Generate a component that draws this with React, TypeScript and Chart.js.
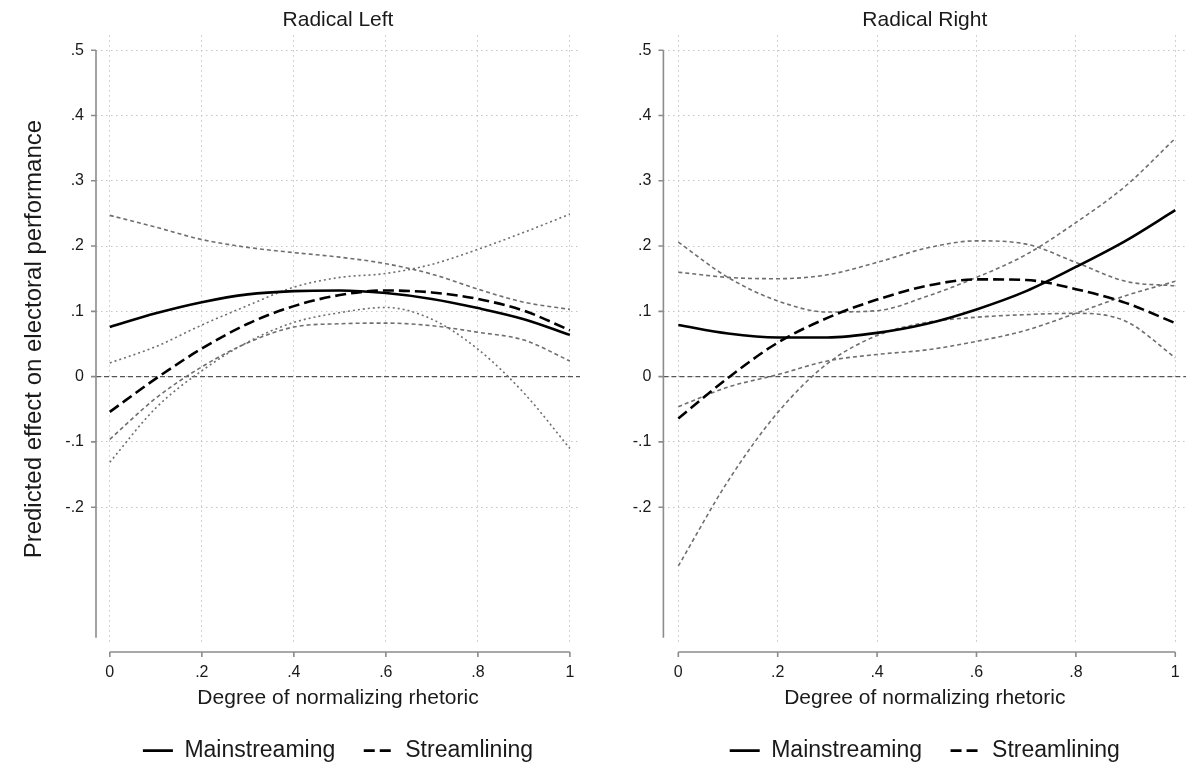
import React, { useEffect, useRef } from "react";
import { Chart, registerables } from "chart.js";

Chart.register(...registerables);

// ---------- data ----------
const xs = [0, 0.1, 0.2, 0.3, 0.4, 0.5, 0.6, 0.7, 0.8, 0.9, 1];

const leftMain = [0.076, 0.097, 0.114, 0.126, 0.131, 0.132, 0.128, 0.119, 0.105, 0.088, 0.064];
const leftStream = [-0.054, -0.003, 0.043, 0.081, 0.108, 0.125, 0.132, 0.129, 0.119, 0.101, 0.071];
const leftMainUpper = [0.247, 0.229, 0.21, 0.198, 0.19, 0.183, 0.173, 0.157, 0.134, 0.114, 0.103];
const leftMainLower = [-0.096, -0.033, 0.015, 0.052, 0.076, 0.081, 0.082, 0.078, 0.068, 0.056, 0.024];
const leftStreamUpper = [0.021, 0.046, 0.079, 0.109, 0.137, 0.152, 0.158, 0.172, 0.195, 0.221, 0.249];
const leftStreamLower = [-0.131, -0.048, 0.009, 0.053, 0.083, 0.098, 0.106, 0.088, 0.042, -0.025, -0.11];

const rightMain = [0.079, 0.066, 0.06, 0.06, 0.067, 0.081, 0.103, 0.131, 0.168, 0.208, 0.255];
const rightStream = [-0.064, -0.002, 0.052, 0.09, 0.118, 0.139, 0.149, 0.148, 0.134, 0.113, 0.082];
const rightMainUpper = [0.206, 0.152, 0.116, 0.099, 0.101, 0.123, 0.152, 0.187, 0.236, 0.292, 0.365];
const rightMainLower = [-0.046, -0.016, 0.003, 0.024, 0.034, 0.041, 0.054, 0.071, 0.097, 0.124, 0.146];
const rightStreamUpper = [0.16, 0.152, 0.15, 0.156, 0.175, 0.197, 0.208, 0.203, 0.175, 0.146, 0.139];
const rightStreamLower = [-0.29, -0.16, -0.055, 0.02, 0.063, 0.083, 0.091, 0.095, 0.097, 0.085, 0.029];

const xTicks = [0, 0.2, 0.4, 0.6, 0.8, 1];
const yTicks = [-0.2, -0.1, 0, 0.1, 0.2, 0.3, 0.4, 0.5];
const refY = [0, 0];

const X_MIN = -0.03;
const X_MAX = 1.022;
const Y_MIN = -0.408;
const Y_MAX = 0.523;
const Y_AXIS_FROM = -0.4;
const Y_AXIS_TO = 0.5;

const panelTitles = ["Radical Left", "Radical Right"];
const xTitle = "Degree of normalizing rhetoric";
const yTitle = "Predicted effect on electoral performance";
const seriesNames = ["Mainstreaming", "Streamlining"];

// ---------- styles ----------
const FONT = "'Liberation Sans', Arial, Helvetica, sans-serif";
const TEXT = "#1a1a1a";
const AXIS = "#8c8c8c";
const GRID = "#c4c4c4";
const CI = "#6f6f6f";
const MAIN_DASH = [11, 5];

function fmt(v: number): string {
  if (Math.abs(v) < 1e-9) return "0";
  if (Number.isInteger(v)) return String(v);
  return v.toFixed(1).replace("0.", ".");
}

const pts = (ys: number[]) => xs.map((x, i) => ({ x, y: ys[i] }));

const axesPlugin = {
  id: "stataAxes",
  afterDraw(chart: any) {
    const { ctx, chartArea, scales } = chart;
    const x = scales.x;
    const y = scales.y;
    ctx.save();
    ctx.setLineDash([]);
    ctx.strokeStyle = AXIS;
    ctx.lineWidth = 1.6;
    // y axis
    const ax = chartArea.left;
    ctx.beginPath();
    ctx.moveTo(ax, y.getPixelForValue(Y_AXIS_TO));
    ctx.lineTo(ax, y.getPixelForValue(Y_AXIS_FROM));
    yTicks.forEach((v) => {
      const py = y.getPixelForValue(v);
      ctx.moveTo(ax - 5, py);
      ctx.lineTo(ax, py);
    });
    ctx.stroke();
    // x axis
    const ay = chartArea.bottom + 9;
    ctx.beginPath();
    ctx.moveTo(x.getPixelForValue(xTicks[0]), ay);
    ctx.lineTo(x.getPixelForValue(xTicks[xTicks.length - 1]), ay);
    xTicks.forEach((v) => {
      const px = x.getPixelForValue(v);
      ctx.moveTo(px, ay);
      ctx.lineTo(px, ay + 5);
    });
    ctx.stroke();
    ctx.restore();
  },
};

type PanelProps = {
  title: string;
  main: number[];
  stream: number[];
  mainUpper: number[];
  mainLower: number[];
  streamUpper: number[];
  streamLower: number[];
  streamCIDash: number[];
  showYTitle: boolean;
  padLeft: number;
  padRight: number;
  yAxisWidth: number;
};

function Panel(p: PanelProps) {
  const ref = useRef<HTMLCanvasElement | null>(null);
  useEffect(() => {
    if (!ref.current) return;
    const chart = new Chart(ref.current, {
      type: "line",
      data: {
        datasets: [
          {
            label: seriesNames[0],
            data: pts(p.main),
            borderColor: "#000",
            backgroundColor: "#000",
            borderWidth: 2.6,
          },
          {
            label: seriesNames[1],
            data: pts(p.stream),
            borderColor: "#000",
            backgroundColor: "#000",
            borderWidth: 2.6,
            borderDash: MAIN_DASH,
          },
          {
            label: "ci1",
            data: pts(p.mainUpper),
            borderColor: CI,
            borderWidth: 1.6,
            borderDash: [4, 3],
          },
          {
            label: "ci2",
            data: pts(p.mainLower),
            borderColor: CI,
            borderWidth: 1.6,
            borderDash: [4, 3],
          },
          {
            label: "ci3",
            data: pts(p.streamUpper),
            borderColor: CI,
            borderWidth: 1.6,
            borderDash: p.streamCIDash,
          },
          {
            label: "ci4",
            data: pts(p.streamLower),
            borderColor: CI,
            borderWidth: 1.6,
            borderDash: p.streamCIDash,
          },
          {
            label: "ref",
            data: [X_MIN, X_MAX].map((x, i) => ({ x, y: refY[i] })),
            borderColor: "#555",
            borderWidth: 1.3,
            borderDash: [5, 3],
            cubicInterpolationMode: "default",
            tension: 0,
          },
        ] as any,
      },
      options: {
        responsive: true,
        maintainAspectRatio: false,
        animation: false,
        events: [],
        layout: { padding: { left: p.padLeft, right: p.padRight, top: 8, bottom: 6.9 } },
        elements: {
          point: { radius: 0 },
          line: { cubicInterpolationMode: "monotone", fill: false },
        },
        scales: {
          x: {
            type: "linear",
            min: X_MIN,
            max: X_MAX,
            afterBuildTicks: (s: any) => {
              s.ticks = xTicks.map((v) => ({ value: v }));
            },
            afterFit: (s: any) => {
              s.height = 67.6;
            },
            ticks: {
              autoSkip: false,
              maxRotation: 0,
              padding: 20,
              color: TEXT,
              font: { family: FONT, size: 16 },
              callback: (v: any) => fmt(Number(v)),
            },
            grid: {
              drawTicks: false,
              color: GRID,
              lineWidth: 1,
            },
            border: { display: false, dash: [1.5, 3.5] },
            title: {
              display: true,
              text: xTitle,
              color: TEXT,
              font: { family: FONT, size: 21 },
              padding: { top: 0, bottom: 0 },
            },
          },
          y: {
            type: "linear",
            min: Y_MIN,
            max: Y_MAX,
            afterBuildTicks: (s: any) => {
              s.ticks = yTicks.map((v) => ({ value: v }));
            },
            afterFit: (s: any) => {
              s.width = p.yAxisWidth;
            },
            ticks: {
              autoSkip: false,
              padding: 12,
              color: TEXT,
              font: { family: FONT, size: 16 },
              callback: (v: any) => fmt(Number(v)),
            },
            grid: {
              drawTicks: false,
              color: GRID,
              lineWidth: 1,
            },
            border: { display: false, dash: [1.5, 3.5] },
            title: {
              display: p.showYTitle,
              text: yTitle,
              color: TEXT,
              font: { family: FONT, size: 24 },
              padding: { top: 0, bottom: 0 },
            },
          },
        },
        plugins: {
          title: {
            display: true,
            text: p.title,
            fullSize: false,
            color: TEXT,
            font: { family: FONT, size: 21, weight: "normal" },
            padding: { top: 0, bottom: 2 },
          },
          legend: {
            display: true,
            position: "bottom",
            fullSize: false,
            labels: {
              usePointStyle: true,
              pointStyle: "line",
              pointStyleWidth: 30,
              padding: 28.5,
              color: TEXT,
              font: { family: FONT, size: 23 },
              filter: (item: any) => seriesNames.includes(item.text),
              generateLabels: (c: any) => {
                const base = (Chart as any).defaults.plugins.legend.labels.generateLabels(c);
                return base.map((item: any) => {
                  const ds = c.data.datasets[item.datasetIndex];
                  return {
                    ...item,
                    lineDash: ds.borderDash || [],
                    lineWidth: ds.borderWidth,
                    strokeStyle: ds.borderColor,
                    pointStyle: "line",
                  };
                });
              },
            },
          },
          tooltip: { enabled: false },
        },
      } as any,
      plugins: [axesPlugin],
    });
    return () => chart.destroy();
  }, []);
  return <canvas ref={ref} />;
}

export default function App() {
  return (
    <div
      style={{
        position: "fixed",
        left: 0,
        top: 0,
        width: 1200,
        height: 779,
        background: "#fff",
      }}
    >
      <div style={{ position: "absolute", left: 0, top: 0, width: 600, height: 779 }}>
        <Panel
          title={panelTitles[0]}
          main={leftMain}
          stream={leftStream}
          mainUpper={leftMainUpper}
          mainLower={leftMainLower}
          streamUpper={leftStreamUpper}
          streamLower={leftStreamLower}
          streamCIDash={[2, 3]}
          showYTitle={true}
          padLeft={20}
          padRight={20}
          yAxisWidth={76}
        />
      </div>
      <div style={{ position: "absolute", left: 600, top: 0, width: 600, height: 779 }}>
        <Panel
          title={panelTitles[1]}
          main={rightMain}
          stream={rightStream}
          mainUpper={rightMainUpper}
          mainLower={rightMainLower}
          streamUpper={rightStreamUpper}
          streamLower={rightStreamLower}
          streamCIDash={[4, 3]}
          showYTitle={false}
          padLeft={0}
          padRight={8.5}
          yAxisWidth={63.4}
        />
      </div>
    </div>
  );
}
